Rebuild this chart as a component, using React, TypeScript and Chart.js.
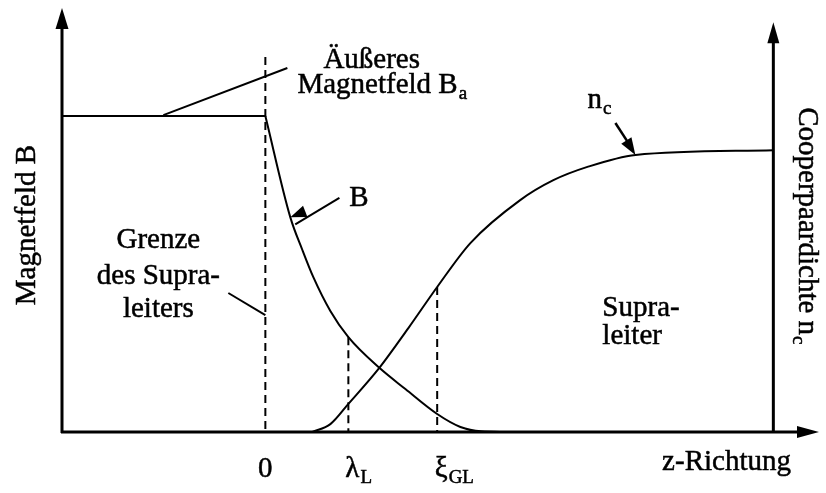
import React, { useEffect, useRef } from "react";
import { Chart, registerables } from "chart.js";

Chart.register(...registerables);

// z in units of the London penetration depth (z = 0 at the surface), fields normalised to B_a = 1
const Z_LEFT_AXIS = -2.45;
const Z_RIGHT_AXIS = 6.12;
const Z_ARROW_TIP = 6.67;
const Y_TOP = 1.342;
const Y_RIGHT_TOP = 1.297;

// magnetic field outside and inside the superconductor
const B_OUTSIDE = [
  { x: -2.45, y: 1.0 },
  { x: 0, y: 1.0 },
];
const B_INSIDE = [
  { x: 0, y: 1.0 },
  { x: 0.3, y: 0.68 },
  { x: 0.446, y: 0.576 },
  { x: 0.578, y: 0.49 },
  { x: 0.783, y: 0.383 },
  { x: 1.0, y: 0.3 },
  { x: 1.373, y: 0.203 },
  { x: 1.687, y: 0.136 },
  { x: 2.07, y: 0.057 },
  { x: 2.35, y: 0.016 },
  { x: 2.6, y: 0.002 },
  { x: 2.9, y: 0 },
];
// Cooper pair density
const N_C = [
  { x: 0.566, y: 0 },
  { x: 0.783, y: 0.025 },
  { x: 1.0, y: 0.089 },
  { x: 1.373, y: 0.203 },
  { x: 1.723, y: 0.329 },
  { x: 2.07, y: 0.459 },
  { x: 2.47, y: 0.598 },
  { x: 3.07, y: 0.734 },
  { x: 3.47, y: 0.797 },
  { x: 3.88, y: 0.839 },
  { x: 4.46, y: 0.877 },
  { x: 6.12, y: 0.892 },
];

// marked positions on the z axis
const TICK_Z = [0, 1.0, 2.07];
const TICK_MAIN = ["0", "λ", "ξ"];
const TICK_SUB = ["", "L", "GL"];
const SURFACE_TOP = 1.187;

const FONT = '"Liberation Serif", "Times New Roman", serif';
const MAIN = `29px ${FONT}`;
const SUB = `19px ${FONT}`;

const yAt = (pts: { x: number; y: number }[], z: number) =>
  (pts.find((p) => Math.abs(p.x - z) < 1e-6) || { y: 0 }).y;

const drawingPlugin = {
  id: "diagram",
  afterDatasetsDraw(chart: any) {
    const ctx: CanvasRenderingContext2D = chart.ctx;
    const xs = chart.scales.x;
    const ys = chart.scales.y;
    const X = (v: number) => xs.getPixelForValue(v);
    const Y = (v: number) => ys.getPixelForValue(v);

    ctx.save();
    ctx.strokeStyle = "#000";
    ctx.fillStyle = "#000";
    ctx.lineCap = "butt";

    const line = (x1: number, y1: number, x2: number, y2: number, w: number) => {
      ctx.lineWidth = w;
      ctx.beginPath();
      ctx.moveTo(x1, y1);
      ctx.lineTo(x2, y2);
      ctx.stroke();
    };
    const head = (tx: number, ty: number, fx: number, fy: number, len: number, hw: number) => {
      const a = Math.atan2(ty - fy, tx - fx);
      const bx = tx - len * Math.cos(a);
      const by = ty - len * Math.sin(a);
      ctx.beginPath();
      ctx.moveTo(tx, ty);
      ctx.lineTo(bx + hw * Math.sin(a), by - hw * Math.cos(a));
      ctx.lineTo(bx - hw * Math.sin(a), by + hw * Math.cos(a));
      ctx.closePath();
      ctx.fill();
    };
    const glyphs = (s: string, x: number, y: number) => {
      ctx.fillText(s, x, y);
      ctx.lineWidth = 0.5;
      ctx.strokeText(s, x, y);
    };
    const text = (main: string, sub: string, x: number, y: number, align: "left" | "center" = "left") => {
      ctx.font = MAIN;
      ctx.textBaseline = "alphabetic";
      const wm = ctx.measureText(main).width;
      ctx.font = SUB;
      const ws = sub ? ctx.measureText(sub).width + 1 : 0;
      let left = x;
      if (align === "center") left = x - (wm + ws) / 2;
      ctx.textAlign = "left";
      ctx.font = MAIN;
      glyphs(main, left, y);
      if (sub) {
        ctx.font = SUB;
        glyphs(sub, left + wm + 1, y + 6);
      }
    };

    // axes
    const x0 = X(Z_LEFT_AXIS);
    const xr = X(Z_RIGHT_AXIS);
    const y0 = Y(0);
    line(x0, y0 + 1, x0, Y(Y_TOP) + 14, 3);
    head(x0, Y(Y_TOP), x0, y0, 21, 6.5);
    line(xr, y0, xr, Y(Y_RIGHT_TOP) + 14, 3);
    head(xr, Y(Y_RIGHT_TOP), xr, y0, 21, 6);
    line(x0 - 1, y0, X(Z_ARROW_TIP) - 14, y0, 3);
    head(X(Z_ARROW_TIP), y0, x0, y0, 22, 6);

    // leader lines and arrows
    line(X(-1.229), Y(1.003), X(0.265), Y(1.152), 2);
    line(X(-0.446), Y(0.44), X(0), Y(0.37), 2);
    line(X(0.892), Y(0.741), X(0.36), Y(0.657), 2);
    head(X(0.301), Y(0.68), X(0.892), Y(0.741), 16, 6);
    line(X(4.217), Y(0.978), X(4.41), Y(0.9), 2.5);
    head(X(4.458), Y(0.877), X(4.217), Y(0.978), 17, 6);

    // labels
    text("Äußeres", "", X(0.699), Y(1.152));
    text("Magnetfeld B", "a", X(0.386), Y(1.073));
    text("B", "", X(1.012), Y(0.715));
    text("n", "c", X(3.88), Y(1.025));
    text("Grenze", "", X(-1.289), Y(0.582), "center");
    text("des Supra-", "", X(-1.289), Y(0.468), "center");
    text("leiters", "", X(-1.289), Y(0.364), "center");
    text("Supra-", "", X(4.06), Y(0.367));
    text("leiter", "", X(4.06), Y(0.278));
    text("z-Richtung", "", X(4.78), Y(-0.12));

    TICK_Z.forEach((z, i) => {
      ctx.font = MAIN;
      const wm = ctx.measureText(TICK_MAIN[i]).width;
      const off = TICK_SUB[i] ? 4 : 0;
      text(TICK_MAIN[i], TICK_SUB[i], X(z) - wm / 2 + off, Y(-0.142));
    });

    // axis titles
    ctx.save();
    ctx.translate(X(-2.771), Y(0.655));
    ctx.rotate(-Math.PI / 2);
    text("Magnetfeld B", "", 0, 0, "center");
    ctx.restore();

    ctx.save();
    ctx.translate(X(6.434), Y(1.028));
    ctx.rotate(Math.PI / 2);
    text("Cooperpaardichte n", "c", 0, 0);
    ctx.restore();

    ctx.restore();
  },
};

export default function App() {
  const ref = useRef<HTMLCanvasElement | null>(null);

  useEffect(() => {
    if (!ref.current) return;
    const curve = { borderColor: "#000", borderWidth: 2, pointRadius: 0, showLine: true, fill: false };
    const dashed = { ...curve, borderDash: [8, 5], cubicInterpolationMode: "default" as const, tension: 0 };
    const chart = new Chart(ref.current, {
      type: "scatter",
      data: {
        datasets: [
          { label: "B außen", data: B_OUTSIDE, ...curve, tension: 0 },
          { label: "B", data: B_INSIDE, ...curve, cubicInterpolationMode: "monotone" },
          { label: "n_c", data: N_C, ...curve, cubicInterpolationMode: "monotone" },
          { label: "Grenze", data: [{ x: TICK_Z[0], y: SURFACE_TOP }, { x: TICK_Z[0], y: 0 }], ...dashed },
          { label: "λ_L", data: [{ x: TICK_Z[1], y: yAt(B_INSIDE, TICK_Z[1]) }, { x: TICK_Z[1], y: 0 }], ...dashed },
          { label: "ξ_GL", data: [{ x: TICK_Z[2], y: yAt(N_C, TICK_Z[2]) }, { x: TICK_Z[2], y: 0 }], ...dashed },
        ],
      },
      options: {
        responsive: false,
        animation: false,
        events: [],
        layout: { padding: { left: 62, right: 7, top: 8, bottom: 61 } },
        plugins: { legend: { display: false }, tooltip: { enabled: false } },
        scales: {
          x: { type: "linear", min: Z_LEFT_AXIS, max: Z_ARROW_TIP, display: false },
          y: { type: "linear", min: 0, max: Y_TOP, display: false },
        },
      },
      plugins: [drawingPlugin],
    });
    return () => chart.destroy();
  }, []);

  return (
    <div style={{ position: "absolute", left: 0, top: 0, width: 826, height: 493, background: "#fff" }}>
      <canvas ref={ref} width={826} height={493} />
    </div>
  );
}
